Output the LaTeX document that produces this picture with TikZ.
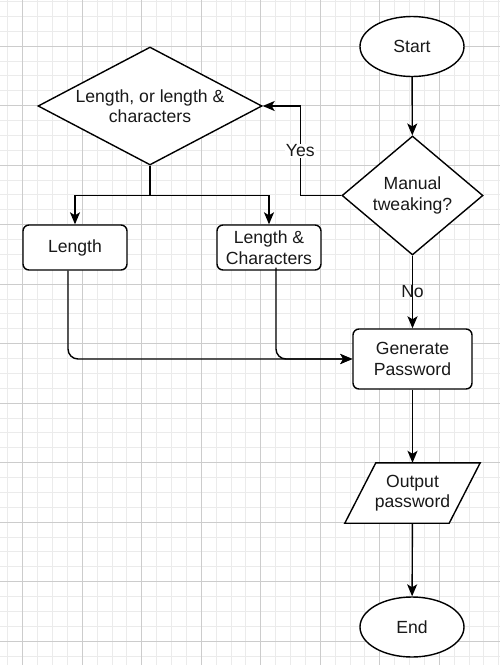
\documentclass[tikz,border=0pt]{standalone}
\usepackage{fontspec}
\setmainfont{Liberation Sans}
\usetikzlibrary{shapes.geometric,arrows.meta}
\begin{document}
\begin{tikzpicture}[x=1pt,y=-1pt,
  every node/.style={font=\fontsize{17.6}{20.5}\selectfont, text=black!90},
  minorgrid/.style={draw=black!8, line width=0.8pt},
  majorgrid/.style={draw=black!20, line width=0.9pt},
  shp/.style={draw=black, line width=1.4pt, fill=white, inner sep=0pt},
  term/.style={shp, ellipse, minimum width=104, minimum height=60},
  proc/.style={shp, rectangle, rounded corners=6pt, align=center},
  dec/.style={shp, diamond},
  iotext/.style={inner sep=0pt, align=center, minimum width=104, minimum height=60},
  ioshape/.style={draw=black, line width=1.4pt, fill=white},
  conn/.style={draw=black, line width=1.4pt, -{Stealth[length=12pt,width=10pt,inset=3pt]}},
  lbl/.style={fill=white, inner sep=1pt}
]
\useasboundingbox (0,0) rectangle (500,665);
\fill[white] (0,0) rectangle (500,665);
% grid
\foreach \i in {0,...,33} { \draw[minorgrid] ({7.8+14.875*\i},0) -- ({7.8+14.875*\i},665); }
\foreach \j in {0,...,44} { \draw[minorgrid] (0,{1.4+14.875*\j}) -- (500,{1.4+14.875*\j}); }
\foreach \i in {0,...,7} { \draw[majorgrid] ({22.7+59.5*\i},0) -- ({22.7+59.5*\i},665); }
\foreach \j in {0,...,10} { \draw[majorgrid] (0,{46+59.5*\j}) -- (500,{46+59.5*\j}); }

% nodes
\node[term] (start) at (412,46.5) {Start};
\node[dec, minimum width=141, minimum height=119,
  label={[align=center, text=black!90]center:Manual\\tweaking?}] (d2) at (412.5,195.5) {};
\node[dec, minimum width=224, minimum height=118,
  label={[align=center, text=black!90]center:Length, or length \&\\characters}] (d1) at (150,106) {};
\node[proc, minimum width=104, minimum height=45] (len) at (75,247.5) {Length};
\node[proc, minimum width=104, minimum height=45] (lc) at (269,247.5) {Length \&\\Characters};
\node[proc, minimum width=119, minimum height=60] (gen) at (412.5,359) {Generate\\Password};
\node[iotext] (out) at (412.5,493) {\phantom{Output}};
\draw[ioshape] ([xshift=-15.5pt]out.south west) -- ([xshift=15.5pt]out.north west)
  -- ([xshift=15.5pt]out.north east) -- ([xshift=-15.5pt]out.south east) -- cycle;
\node[iotext] at (out.center) {Output\\password};
\node[term] (end) at (412,627) {End};

% connectors
\draw[conn] (start) -- (d2);
\draw[conn] (d2.west) -- ++(-41,0) |- node[pos=0.25, lbl] {Yes} (d1.east);
\draw[conn] (d1.south) -- ++(0,30) -| (len.north);
\draw[conn] (d1.south) -- ++(0,30) -| (lc.north);
\draw[conn, rounded corners=10pt] ([xshift=-7pt]len.south) |- (gen.west);
\draw[conn, rounded corners=10pt] ([xshift=7pt,yshift=3pt]lc.south) |- (gen.west);
\draw[conn] (d2.south) -- node[inner sep=1pt] {No} (gen.north);
\draw[conn] (gen) -- (out);
\draw[conn] (out) -- (end);
\end{tikzpicture}
\end{document}
